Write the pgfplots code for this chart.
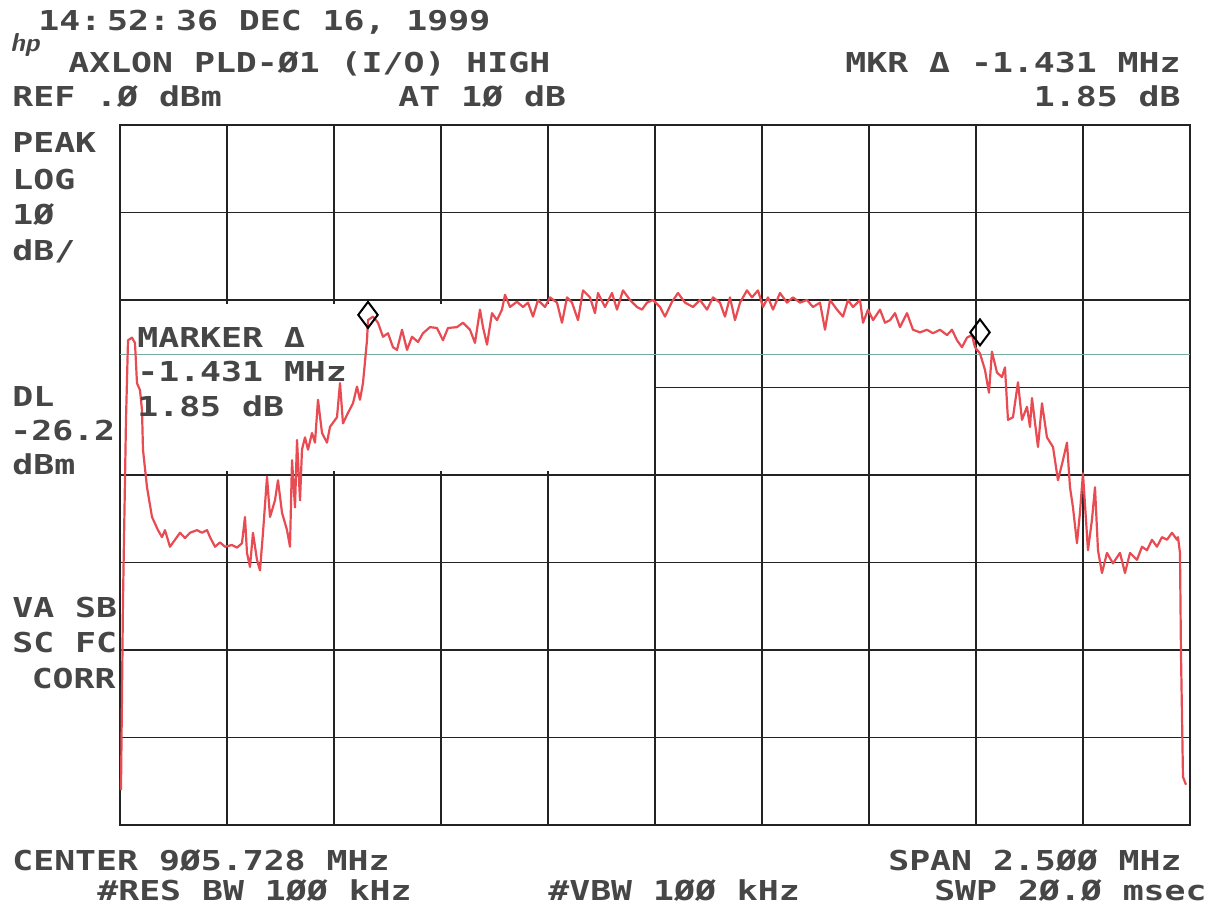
\documentclass[border=0pt]{standalone}
\usepackage{pgfplots}
\pgfplotsset{compat=1.18}
\usepackage{fontspec}
\newfontfamily\hpfont{DejaVu Sans Mono}[FakeStretch=1.27]
\definecolor{trace}{RGB}{233,75,82}
\definecolor{dlc}{RGB}{120,172,162}
\definecolor{txt}{RGB}{70,70,70}
\definecolor{gridc}{RGB}{35,35,35}
\begin{document}
\begin{tikzpicture}
\begin{axis}[at={(60pt,-412.5pt)}, anchor=south west,
  scale only axis, width=535pt, height=350pt,
  xmin=-1250, xmax=1250, ymin=-80, ymax=0,
  xtick={-1000,-750,...,1000}, ytick={-70,-60,...,-10},
  xticklabels={}, yticklabels={}, major tick length=0pt,
  grid=major, major grid style={gridc, line width=0.9pt},
  axis line style={gridc, line width=0.9pt}]
\fill[white] (axis cs:-1247,-20.5) rectangle (axis cs:-3,-39.5);
\addplot[dlc, line width=0.6pt] coordinates {(-1250,-26.2) (1250,-26.2)};
\addplot[trace, line width=1.1pt, line join=round] table {
x y
-1247.7 -76.0
-1243.0 -54.3
-1236.0 -33.7
-1231.3 -24.6
-1222.0 -24.3
-1215.0 -24.9
-1210.3 -29.5
-1203.3 -30.3
-1198.6 -32.6
-1196.3 -37.1
-1186.9 -41.4
-1175.2 -44.8
-1161.2 -46.3
-1151.9 -47.1
-1144.9 -46.3
-1133.2 -48.2
-1121.5 -47.4
-1109.8 -46.6
-1098.1 -47.2
-1086.4 -46.6
-1070.1 -46.3
-1058.4 -46.6
-1046.7 -46.3
-1039.7 -47.1
-1028.0 -48.2
-1016.4 -47.7
-1004.7 -48.2
-988.3 -48.0
-976.6 -48.3
-965.0 -47.8
-958.0 -44.8
-953.3 -48.9
-946.3 -50.5
-939.3 -46.6
-929.9 -49.7
-922.9 -50.9
-915.9 -46.6
-906.5 -40.2
-899.5 -44.8
-887.9 -42.9
-880.9 -40.6
-871.5 -44.3
-859.8 -46.3
-852.8 -48.2
-848.1 -38.3
-841.1 -43.7
-836.4 -36.0
-829.4 -42.9
-824.8 -37.1
-817.8 -35.7
-810.8 -37.1
-801.4 -35.2
-794.4 -36.3
-787.4 -31.4
-778.0 -35.2
-766.4 -36.3
-759.4 -34.5
-743.0 -33.4
-736.0 -29.5
-729.0 -34.1
-717.3 -32.9
-705.6 -31.8
-696.3 -29.9
-689.3 -31.4
-682.3 -29.5
-672.9 -24.6
-670.6 -22.3
-658.9 -21.9
-647.2 -22.6
-635.5 -24.2
-623.8 -23.8
-612.2 -25.4
-602.8 -25.7
-591.1 -23.4
-579.4 -25.7
-567.8 -24.2
-553.8 -24.8
-542.1 -23.8
-525.7 -23.1
-509.4 -23.2
-495.4 -24.6
-483.7 -23.2
-462.7 -23.1
-448.6 -22.6
-432.3 -23.4
-420.6 -24.9
-408.9 -21.1
-401.9 -23.1
-392.5 -25.1
-380.9 -21.5
-369.2 -22.3
-357.5 -21.1
-350.5 -19.4
-338.8 -20.8
-322.5 -20.2
-308.4 -20.8
-296.7 -20.3
-285.1 -21.9
-273.4 -20.0
-257.0 -20.8
-245.3 -19.7
-229.0 -20.3
-217.3 -22.6
-205.6 -19.7
-193.9 -20.3
-179.9 -22.3
-168.2 -18.9
-151.9 -19.7
-140.2 -21.5
-133.2 -19.2
-116.8 -20.8
-100.5 -19.2
-88.8 -21.1
-74.8 -18.9
-58.4 -20.0
-42.1 -20.8
-30.4 -21.1
-18.7 -20.3
-4.7 -20.0
11.7 -20.8
23.3 -21.9
39.7 -20.2
53.7 -19.2
70.1 -20.3
88.8 -20.8
105.1 -20.0
121.5 -21.1
135.5 -19.7
151.8 -20.3
163.5 -21.9
175.2 -19.7
186.9 -22.3
198.6 -20.3
214.9 -18.9
226.6 -19.7
240.6 -18.9
252.3 -20.8
264.0 -19.7
275.7 -21.1
292.0 -19.2
308.4 -20.3
322.4 -19.7
338.8 -20.3
355.1 -20.0
369.1 -20.8
385.5 -20.3
397.2 -23.4
408.9 -20.0
425.2 -21.1
439.2 -21.9
450.9 -20.0
462.6 -20.8
479.0 -20.0
486.0 -22.6
497.7 -21.1
509.4 -22.3
525.7 -21.1
537.4 -22.6
549.1 -22.3
560.8 -21.5
572.4 -23.1
588.8 -21.5
602.8 -23.4
619.1 -23.7
635.5 -23.4
649.5 -23.8
665.8 -23.4
682.2 -24.0
693.9 -23.4
705.6 -24.6
717.2 -25.4
728.9 -24.3
740.6 -24.0
747.6 -25.4
759.3 -26.1
771.0 -28.0
780.3 -30.6
787.3 -25.9
799.0 -28.3
810.7 -28.8
817.7 -27.7
824.7 -33.7
836.4 -33.4
848.1 -29.4
857.4 -33.7
869.1 -32.2
876.1 -34.5
880.8 -31.2
894.8 -36.8
904.2 -31.8
915.8 -35.7
929.9 -36.8
941.5 -40.6
953.2 -38.3
962.6 -36.3
969.6 -41.4
976.6 -43.7
985.9 -47.8
992.9 -44.3
999.9 -39.8
1011.6 -48.6
1021.0 -45.1
1028.0 -41.4
1035.0 -48.6
1044.3 -51.2
1056.0 -48.9
1070.0 -50.1
1086.4 -48.9
1098.1 -51.2
1109.8 -48.9
1126.1 -49.7
1137.8 -48.2
1149.5 -48.6
1161.2 -47.4
1172.8 -48.2
1184.5 -47.1
1196.2 -47.4
1207.9 -46.6
1219.6 -47.4
1221.9 -47.1
1226.6 -48.9
1228.9 -60.3
1233.6 -74.5
1240.6 -75.4
};
\addplot[only marks, mark=diamond, mark size=6.5pt, black, mark options={line width=1pt, fill=none}] coordinates {(-670.6,-21.7) (759.3,-23.7)};
\end{axis}
\begin{scope}[x=0.5pt,y=-0.5pt,
  L/.style={anchor=base west,inner sep=0pt,text=txt,font=\hpfont\bfseries\fontsize{13.7}{14}\selectfont},
  R/.style={anchor=base east,inner sep=0pt,text=txt,font=\hpfont\bfseries\fontsize{13.7}{14}\selectfont}]
\useasboundingbox (0,0) rectangle (1212,910);
% header
\node[font=\sffamily\bfseries\itshape\fontsize{13}{13}\selectfont, text=txt, anchor=base west, inner sep=0pt] at (10,52) {hp};
\node[L] at (38,31) {14:\kern3pt 52:\kern3pt 36 DEC 16, 1999};
\node[L] at (68,72) {AXLON PLD-Ø1 (I/O) HIGH};
\node[L] at (12,106) {REF .Ø dBm};
\node[L] at (398,106) {AT 1Ø dB};
\node[R] at (1181,72) {MKR Δ -1.431 MHz};
\node[R] at (1181,106) {1.85 dB};
% left column
\node[L] at (12,152) {PEAK};
\node[L] at (12,189) {LOG};
\node[L] at (12,224) {1Ø};
\node[L] at (12,260) {dB/};
\node[L] at (12,406) {DL};
\node[L] at (10,440) {-26.2};
\node[L] at (12,474) {dBm};
\node[L] at (12,617) {VA SB};
\node[L] at (12,652) {SC FC};
\node[R] at (116,688) {CORR};
% marker annotation
\node[L] at (137,347) {MARKER Δ};
\node[L] at (137,381) {-1.431 MHz};
\node[L] at (137,416) {1.85 dB};
% footer
\node[L] at (12,870) {CENTER 9Ø5.728 MHz};
\node[R] at (1182,870) {SPAN 2.5ØØ MHz};
\node[L] at (97,900) {\#RES BW 1ØØ kHz};
\node[L] at (548,900) {\#VBW 1ØØ kHz};
\node[R] at (1207,900) {SWP 2Ø.Ø msec};
\end{scope}
\end{tikzpicture}
\end{document}
